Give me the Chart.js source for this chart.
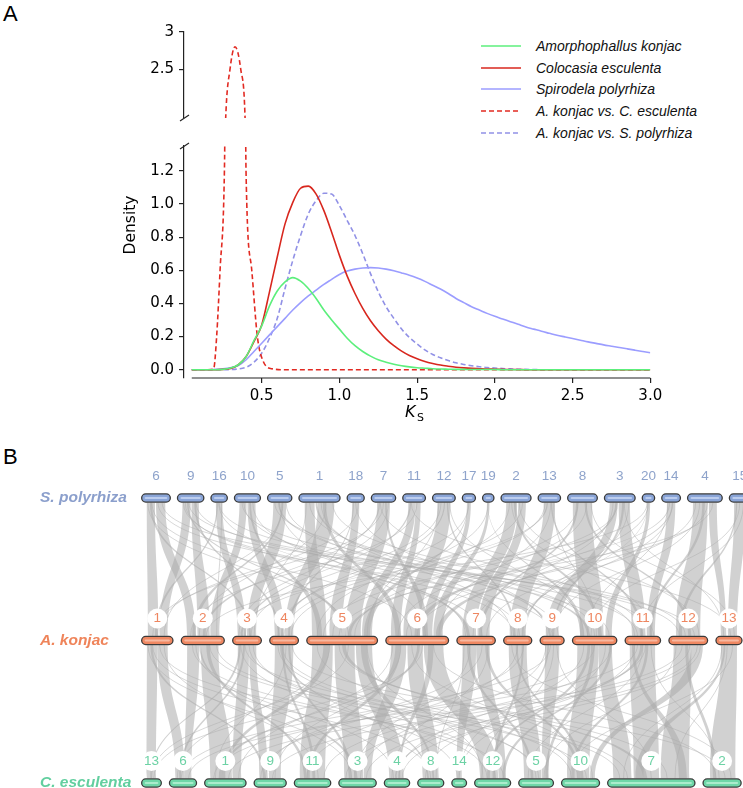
<!DOCTYPE html>
<html>
<head>
<meta charset="utf-8">
<script src="https://cdn.jsdelivr.net/npm/chart.js@4.4.1/dist/chart.umd.min.js"></script>
<style>
  body { margin: 0; background: #fff; width: 743px; height: 788px; position: relative; overflow: hidden;
         font-family: 'Liberation Sans', Arial, sans-serif; }
  canvas { position: absolute; left: 0; }
  #cTop { top: 0; }
  #cLow { top: 132px; }
  #cSyn { top: 440px; }
  .panel { position: absolute; font-size: 22px; color: #000; line-height: 1; }
  #legend { position: absolute; left: 481px; top: 35px; font-style: italic; font-size: 14px; color: #111; }
  #legend .row { height: 21.8px; display: flex; align-items: center; }
  #legend svg { margin-right: 15px; }
</style>
</head>
<body>
<div class="panel" style="left:3px;top:3px">A</div>
<div class="panel" style="left:3px;top:446px">B</div>
<div id="legend"></div>
<canvas id="cTop" width="743" height="132"></canvas>
<canvas id="cLow" width="743" height="300"></canvas>
<canvas id="cSyn" width="743" height="348"></canvas>
<script>
// ── Panel A data: Ks density curves ──────────────────────────────────────

const ks = [0.05,0.10,0.15,0.20,0.25,0.30,0.35,0.40,0.45,0.50,0.55,0.60,0.65,0.70,0.75,0.80,0.85,0.90,0.95,1.00,
            1.05,1.10,1.15,1.20,1.25,1.30,1.35,1.40,1.45,1.50,1.55,1.60,1.65,1.70,1.75,1.80,1.85,1.90,1.95,2.00,
            2.05,2.10,2.15,2.20,2.25,2.30,2.35,2.40,2.45,2.50,2.55,2.60,2.65,2.70,2.75,2.80,2.85,2.90,2.95,3.00];

const konjac = [0,0,0,0,0.002,0.01,0.03,0.08,0.175,0.265, 0.385,0.475,0.53,0.556,0.535,0.49,0.43,0.36,0.30,0.245,
                0.19,0.145,0.11,0.082,0.06,0.045,0.033,0.024,0.017,0.012, 0.009,0.006,0.004,0.003,0.002,0.002,0.001,0.001,0.001,0.001,
                0,0,0,0,0,0,0,0,0,0, 0,0,0,0,0,0,0,0,0,0];

const esculenta = [0,0,0,0,0.002,0.008,0.03,0.08,0.17,0.27, 0.47,0.68,0.88,1.01,1.095,1.108,1.06,0.96,0.83,0.69,
                   0.565,0.46,0.37,0.295,0.235,0.185,0.145,0.112,0.086,0.066, 0.05,0.038,0.028,0.021,0.015,0.011,0.008,0.006,0.004,0.003,
                   0.002,0.001,0.001,0,0,0,0,0,0,0, 0,0,0,0,0,0,0,0,0,0];

const polyrhiza = [0,0,0,0.002,0.005,0.012,0.025,0.06,0.11,0.16, 0.21,0.26,0.31,0.36,0.405,0.445,0.48,0.515,0.545,0.575,
                   0.595,0.607,0.614,0.616,0.614,0.607,0.597,0.584,0.57,0.553, 0.533,0.51,0.487,0.46,0.43,0.405,0.38,0.36,0.34,0.322,
                   0.306,0.29,0.274,0.258,0.245,0.232,0.22,0.208,0.198,0.188, 0.178,0.168,0.159,0.15,0.142,0.134,0.126,0.118,0.11,0.102];

const akVsSp = [0,0,0,0,0,0.001,0.005,0.015,0.045,0.1, 0.19,0.31,0.49,0.66,0.81,0.94,1.02,1.065,1.06,0.99,
                0.9,0.81,0.7,0.58,0.47,0.38,0.31,0.245,0.195,0.155, 0.12,0.092,0.072,0.055,0.042,0.032,0.024,0.018,0.013,0.01,
                0.007,0.005,0.003,0.002,0.001,0,0,0,0,0, 0,0,0,0,0,0,0,0,0,0];

// the konjac vs taro peak is narrow, so it gets its own Ks points
const akVsCeKs = [0.05,0.15,0.19,0.21,0.232,0.26,0.268,0.296,0.328,0.365,0.393,0.399,0.436,0.472,0.51,0.57,0.65,1.0,2.0,3.0];
const akVsCe   = [0,   0,   0.003,0.2,0.6,  1.2, 1.84, 2.5,  2.8,  2.5,  1.84, 1.2,  0.6,  0.2,  0.05,0.005,0, 0,  0,  0];

const xTicks = [0.5, 1.0, 1.5, 2.0, 2.5, 3.0];
const yTicksLow = [0, 0.2, 0.4, 0.6, 0.8, 1.0, 1.2];
const yTicksTop = [2.5, 3];

const seriesNames = ['Amorphophallus konjac', 'Colocasia esculenta', 'Spirodela polyrhiza',
                     'A. konjac vs. C. esculenta', 'A. konjac vs. S. polyrhiza'];

// ── Panel B data: chromosomes (relative lengths) and syntenic links ───────

const spChrs = ['6','9','16','10','5','1','18','7','11','12','17','19','2','13','8','3','20','14','4','15'];
const spLens = [30,27.7,17.7,27.3,25.6,42.4,18.4,25.6,24,24,14.4,12.7,31.3,23.7,31,32,13.7,20,36,22];
const akChrs = ['1','2','3','4','5','6','7','8','9','10','11','12','13'];
const akLens = [32.6,44.3,30,30,72,64,39.7,29.4,25.3,45.6,36.7,40,27.3];
const ceChrs = ['13','6','1','9','11','3','4','8','14','12','5','10','7','2'];
const ceLens = [21,28.4,42.7,33.4,37.7,38.7,26.6,27.3,16,37.3,36,39.3,88.6,39.4];

const rowNames = ['S. polyrhiza', 'A. konjac', 'C. esculenta'];

// [upper chr, from, to, lower chr, from, to]  (fractions of chromosome length)
const spAkBlocks = [
  ['6',0.05,0.45,'1',0.1,0.55], ['6',0.5,0.95,'2',0.05,0.3], ['9',0.05,0.5,'1',0.6,0.95],
  ['9',0.55,0.95,'2',0.35,0.7], ['16',0.1,0.9,'3',0.05,0.45], ['10',0.05,0.45,'2',0.72,0.98],
  ['10',0.5,0.95,'4',0.05,0.5], ['5',0.1,0.9,'3',0.5,0.95], ['1',0.05,0.35,'5',0.02,0.25],
  ['1',0.45,0.95,'4',0.55,0.95], ['18',0.1,0.9,'5',0.3,0.5], ['7',0.1,0.9,'5',0.55,0.8],
  ['11',0.1,0.6,'5',0.82,0.98], ['11',0.6,0.95,'6',0.02,0.2], ['12',0.05,0.95,'6',0.25,0.55],
  ['17',0.1,0.9,'6',0.6,0.78], ['19',0.1,0.9,'6',0.8,0.97], ['2',0.05,0.55,'7',0.05,0.5],
  ['2',0.6,0.95,'7',0.55,0.95], ['13',0.1,0.9,'8',0.1,0.9], ['8',0.05,0.95,'10',0.1,0.75],
  ['3',0.05,0.4,'9',0.1,0.9], ['3',0.45,0.95,'11',0.1,0.6], ['20',0.1,0.9,'10',0.8,0.98],
  ['14',0.1,0.9,'11',0.65,0.95], ['4',0.05,0.6,'12',0.1,0.9], ['4',0.65,0.95,'13',0.05,0.35],
  ['15',0.05,0.95,'13',0.45,0.95],
  ['1',0.38,0.44,'9',0.3,0.45], ['7',0.2,0.28,'2',0.5,0.58], ['12',0.5,0.58,'4',0.35,0.45],
  ['3',0.3,0.38,'6',0.45,0.55], ['5',0.4,0.5,'10',0.3,0.38], ['9',0.3,0.38,'5',0.5,0.56],
  ['13',0.3,0.4,'3',0.2,0.3], ['8',0.6,0.7,'12',0.5,0.6], ['16',0.4,0.5,'7',0.2,0.3],
  ['14',0.3,0.4,'5',0.6,0.65],
  ['6',0.2,0.3,'3',0.6,0.7], ['9',0.7,0.8,'4',0.2,0.3], ['16',0.2,0.35,'1',0.4,0.5],
  ['10',0.6,0.7,'5',0.1,0.18], ['5',0.6,0.7,'2',0.2,0.3], ['1',0.6,0.7,'6',0.1,0.2],
  ['18',0.2,0.3,'4',0.7,0.8], ['7',0.6,0.7,'6',0.6,0.7], ['11',0.2,0.3,'3',0.35,0.45],
  ['12',0.7,0.8,'8',0.3,0.4], ['2',0.4,0.5,'10',0.6,0.7], ['13',0.6,0.7,'11',0.4,0.5],
  ['8',0.2,0.3,'7',0.6,0.7], ['3',0.6,0.7,'9',0.5,0.6], ['14',0.6,0.7,'6',0.85,0.95],
  ['4',0.4,0.5,'11',0.75,0.85], ['15',0.2,0.3,'12',0.2,0.3], ['20',0.3,0.4,'8',0.7,0.8],
  ['19',0.3,0.4,'10',0.1,0.2], ['17',0.3,0.4,'5',0.85,0.95],
];

const akCeBlocks = [
  ['1',0.05,0.5,'13',0.1,0.9], ['1',0.5,0.95,'6',0.1,0.6], ['2',0.05,0.4,'6',0.6,0.95],
  ['2',0.45,0.95,'1',0.05,0.7], ['3',0.05,0.6,'1',0.72,0.98], ['3',0.6,0.95,'9',0.05,0.4],
  ['4',0.05,0.95,'9',0.45,0.95], ['5',0.02,0.35,'11',0.05,0.95], ['5',0.38,0.7,'3',0.05,0.7],
  ['5',0.72,0.98,'4',0.05,0.9], ['6',0.02,0.3,'3',0.72,0.98], ['6',0.32,0.6,'8',0.05,0.95],
  ['6',0.62,0.98,'12',0.05,0.7], ['7',0.05,0.5,'14',0.1,0.9], ['7',0.5,0.95,'12',0.72,0.98],
  ['8',0.05,0.95,'5',0.05,0.7], ['9',0.05,0.95,'5',0.72,0.98], ['10',0.02,0.6,'10',0.05,0.8],
  ['10',0.6,0.98,'7',0.02,0.25], ['11',0.02,0.95,'7',0.28,0.6], ['12',0.02,0.6,'7',0.62,0.98],
  ['12',0.6,0.98,'10',0.82,0.98], ['13',0.05,0.95,'2',0.1,0.95],
  ['2',0.4,0.45,'3',0.4,0.5], ['6',0.5,0.55,'1',0.3,0.4], ['11',0.4,0.5,'4',0.4,0.5],
  ['10',0.3,0.38,'12',0.3,0.4], ['5',0.5,0.56,'7',0.4,0.45], ['4',0.4,0.5,'11',0.5,0.6],
  ['8',0.4,0.5,'10',0.5,0.6],
  ['1',0.2,0.3,'9',0.2,0.3], ['2',0.6,0.7,'11',0.2,0.3], ['3',0.3,0.4,'6',0.3,0.4],
  ['4',0.7,0.8,'3',0.2,0.3], ['5',0.8,0.9,'8',0.6,0.7], ['5',0.2,0.3,'1',0.4,0.5],
  ['6',0.7,0.8,'4',0.6,0.7], ['6',0.1,0.2,'11',0.3,0.4], ['7',0.2,0.3,'5',0.3,0.4],
  ['8',0.7,0.8,'12',0.5,0.6], ['9',0.2,0.3,'14',0.4,0.5], ['10',0.4,0.5,'5',0.85,0.95],
  ['11',0.6,0.7,'10',0.2,0.3], ['12',0.4,0.5,'2',0.2,0.3], ['13',0.2,0.3,'7',0.3,0.4],
  ['10',0.9,0.98,'12',0.85,0.95], ['11',0.1,0.2,'7',0.85,0.95], ['3',0.1,0.2,'13',0.4,0.5],
  ['4',0.3,0.4,'8',0.3,0.4], ['7',0.8,0.9,'10',0.4,0.5],
];

// single-gene links: [upper chr, pos, lower chr, pos]
const spAkLinks = [
  ['6',0.3,'6',0.4], ['9',0.2,'7',0.7], ['16',0.5,'11',0.3], ['10',0.3,'8',0.6], ['5',0.2,'12',0.4],
  ['1',0.2,'10',0.5], ['1',0.7,'2',0.4], ['18',0.5,'9',0.2], ['7',0.5,'1',0.3], ['11',0.3,'13',0.6],
  ['12',0.3,'3',0.7], ['17',0.5,'4',0.2], ['19',0.5,'5',0.1], ['2',0.3,'11',0.8], ['2',0.8,'4',0.5],
  ['13',0.6,'6',0.9], ['8',0.3,'5',0.7], ['3',0.2,'7',0.4], ['3',0.7,'13',0.2], ['20',0.5,'6',0.3],
  ['14',0.6,'8',0.5], ['4',0.3,'9',0.6], ['4',0.8,'5',0.45], ['15',0.5,'10',0.4], ['6',0.8,'12',0.7],
  ['9',0.8,'10',0.9], ['5',0.7,'1',0.8], ['1',0.9,'11',0.2],
  ['6',0.6,'9',0.5], ['9',0.4,'12',0.2], ['16',0.8,'2',0.9], ['10',0.8,'7',0.15], ['5',0.5,'6',0.65],
  ['1',0.1,'3',0.85], ['1',0.55,'8',0.2], ['18',0.8,'1',0.5], ['7',0.3,'11',0.5], ['7',0.8,'3',0.1],
  ['11',0.7,'2',0.15], ['12',0.9,'10',0.2], ['12',0.15,'5',0.9], ['2',0.2,'5',0.35], ['2',0.65,'12',0.85],
  ['13',0.2,'4',0.85], ['13',0.8,'10',0.55], ['8',0.7,'6',0.15], ['8',0.9,'13',0.8], ['3',0.4,'5',0.2],
  ['3',0.9,'8',0.85], ['20',0.2,'2',0.6], ['14',0.2,'10',0.3], ['4',0.15,'7',0.85], ['4',0.6,'6',0.5],
  ['15',0.8,'11',0.45], ['6',0.1,'5',0.6], ['9',0.1,'8',0.3], ['10',0.2,'11',0.9], ['5',0.9,'9',0.9],
];
const akCeLinks = [
  ['1',0.3,'8',0.5], ['2',0.2,'12',0.3], ['3',0.4,'7',0.2], ['4',0.6,'1',0.2], ['5',0.1,'10',0.4],
  ['5',0.6,'13',0.5], ['6',0.2,'9',0.7], ['6',0.8,'2',0.3], ['7',0.3,'3',0.4], ['8',0.5,'11',0.3],
  ['9',0.4,'6',0.4], ['10',0.2,'4',0.6], ['10',0.8,'14',0.5], ['11',0.5,'5',0.2], ['12',0.3,'1',0.6],
  ['12',0.8,'3',0.8], ['13',0.4,'7',0.8], ['1',0.8,'11',0.7], ['3',0.8,'12',0.6], ['4',0.2,'5',0.5],
  ['7',0.7,'9',0.3], ['9',0.8,'7',0.5], ['11',0.2,'8',0.2], ['2',0.7,'10',0.7], ['8',0.2,'2',0.8],
  ['1',0.1,'3',0.3], ['1',0.6,'12',0.9], ['2',0.3,'4',0.3], ['2',0.9,'7',0.1], ['3',0.2,'14',0.2],
  ['3',0.6,'5',0.6], ['4',0.4,'10',0.2], ['4',0.9,'2',0.6], ['5',0.3,'6',0.2], ['5',0.45,'7',0.7],
  ['5',0.9,'12',0.15], ['6',0.05,'1',0.9], ['6',0.4,'10',0.9], ['6',0.6,'13',0.7], ['7',0.1,'8',0.8],
  ['7',0.9,'4',0.2], ['8',0.8,'9',0.1], ['9',0.1,'3',0.6], ['9',0.6,'12',0.1], ['10',0.5,'1',0.15],
  ['10',0.95,'11',0.9], ['11',0.3,'6',0.8], ['11',0.8,'2',0.4], ['12',0.1,'5',0.8], ['12',0.55,'9',0.6],
  ['13',0.1,'7',0.15], ['13',0.7,'10',0.15], ['11',0.6,'3',0.1], ['12',0.9,'4',0.8],
];

// ── Panel A charts (broken y axis = two stacked charts) ───────────────────

const COLORS = ['#5cef7c', '#d8271e', '#9b9dff', '#e22a22', '#9191e6'];
const DASHED = [false, false, false, true, true];
const TICK_FONT = { family: "'DejaVu Sans'", size: 15 };

function curveSets() {
  const curves = [konjac, esculenta, polyrhiza, akVsCe, akVsSp];
  return curves.map((vals, i) => {
    const xs = vals === akVsCe ? akVsCeKs : ks;
    return {
      label: seriesNames[i],
      data: xs.map((k, j) => ({ x: k, y: vals[j] })),
      borderColor: COLORS[i],
      borderWidth: 1.6,
      borderDash: DASHED[i] ? [5, 3] : [],
      pointRadius: 0,
      cubicInterpolationMode: 'monotone',
      fill: false,
    };
  });
}

function yAxis(min, max, ticks, fmt) {
  return {
    min, max,
    afterFit: s => { s.width = 184; },
    afterBuildTicks: s => { s.ticks = ticks.map(v => ({ value: v })); },
    ticks: { callback: fmt, font: TICK_FONT, color: '#000', padding: 5 },
    grid: { drawOnChartArea: false, tickLength: 5, color: '#222', lineWidth: 1.2 },
    border: { color: '#222', width: 1.2 },
  };
}

const breakMark = (ctx, x, y) => {
  ctx.save();
  ctx.strokeStyle = '#222';
  ctx.lineWidth = 1.2;
  ctx.beginPath();
  ctx.moveTo(x - 4, y + 3);
  ctx.lineTo(x + 5, y - 3);
  ctx.stroke();
  ctx.restore();
};

new Chart(document.getElementById('cTop'), {
  type: 'line',
  data: { datasets: curveSets() },
  options: {
    responsive: false,
    animation: false,
    layout: { padding: { top: 31.7, bottom: 4, right: 92.7 } },
    plugins: { legend: { display: false }, tooltip: { enabled: false } },
    scales: {
      x: { type: 'linear', min: 0, max: 3, display: false },
      y: yAxis(1.85, 3, yTicksTop, v => String(v)),
    },
  },
  plugins: [{
    id: 'topBreak',
    afterDraw(chart) {
      breakMark(chart.ctx, chart.chartArea.left, chart.chartArea.bottom);
    },
  }],
});

new Chart(document.getElementById('cLow'), {
  type: 'line',
  data: { datasets: curveSets() },
  options: {
    responsive: false,
    animation: false,
    layout: { padding: { top: 4, right: 92.7 } },
    plugins: { legend: { display: false }, tooltip: { enabled: false } },
    scales: {
      x: {
        type: 'linear', min: 0, max: 3,
        afterFit: s => { s.height = 54; },
        afterBuildTicks: s => { s.ticks = xTicks.map(v => ({ value: v })); },
        ticks: { callback: v => v.toFixed(1), font: TICK_FONT, color: '#000', padding: 4, maxRotation: 0 },
        grid: { drawOnChartArea: false, tickLength: 5, color: '#222', lineWidth: 1.2 },
        border: { display: false },
      },
      y: yAxis(-0.05, 1.35, yTicksLow, v => v.toFixed(1)),
    },
  },
  plugins: [{
    id: 'lowAxes',
    afterDraw(chart) {
      const { ctx, chartArea: a, scales: { x } } = chart;
      // trimmed x spine, only over the data range
      ctx.save();
      ctx.strokeStyle = '#222';
      ctx.lineWidth = 1.2;
      ctx.beginPath();
      ctx.moveTo(x.getPixelForValue(ks[0]), a.bottom);
      ctx.lineTo(x.getPixelForValue(ks[ks.length - 1]), a.bottom);
      ctx.stroke();
      ctx.restore();
      breakMark(ctx, a.left, a.top);

      ctx.save();
      ctx.fillStyle = '#000';
      ctx.font = "15.5px 'DejaVu Sans'";
      ctx.textAlign = 'center';
      ctx.textBaseline = 'middle';
      ctx.translate(131, 93);
      ctx.rotate(-Math.PI / 2);
      ctx.fillText('Density', 0, 0);
      ctx.restore();

      ctx.save();
      ctx.fillStyle = '#000';
      ctx.font = "italic 16px 'DejaVu Sans'";
      ctx.textBaseline = 'alphabetic';
      ctx.fillText('K', 405, 285);
      ctx.font = "11px 'DejaVu Sans'";
      ctx.fillText('S', 417, 289);
      ctx.restore();
    },
  }],
});

// legend as plain HTML
(function buildLegend() {
  const box = document.getElementById('legend');
  seriesNames.forEach((name, i) => {
    const row = document.createElement('div');
    row.className = 'row';
    row.innerHTML =
      `<svg width="40" height="4"><line x1="0" y1="2" x2="40" y2="2" stroke="${COLORS[i]}" stroke-width="1.6"` +
      (DASHED[i] ? ' stroke-dasharray="5,3"' : '') + '/></svg><span></span>';
    row.querySelector('span').textContent = name;
    box.appendChild(row);
  });
})();

// ── Panel B: synteny plot ────────────────────────────────────────────────

const ROW_GAPS = [5.8, 7.06, 6.8];
const BAR_W = 9.5;
const ROW_STYLE = [
  { fill: '#8aa5d8', shine: '#bccdee', text: '#8b9fcc', num: '#8ea3cb' },
  { fill: '#ef8862', shine: '#f7b8a0', text: '#ef845a', num: '#ee8660' },
  { fill: '#6fd7a8', shine: '#aaeccc', text: '#62cf9f', num: '#6dd2a5' },
];
const rowChrs = [[spChrs, spLens], [akChrs, akLens], [ceChrs, ceLens]];

const rowLayout = rowChrs.map(([names, lens], r) => {
  const pos = {};
  let at = 0;
  names.forEach((n, i) => {
    pos[n] = { start: at, end: at + lens[i] };
    at += lens[i] + ROW_GAPS[r];
  });
  return pos;
});

function barSet(r, width, color) {
  const data = [];
  Object.values(rowLayout[r]).forEach(c => {
    data.push({ x: c.start + BAR_W / 2, y: r }, { x: c.end - BAR_W / 2, y: r }, { x: c.end, y: null });
  });
  return {
    data, borderColor: color, borderWidth: width, borderCapStyle: 'round',
    pointRadius: 0, spanGaps: false, clip: false, tension: 0,
  };
}

const synSets = [];
[0, 1, 2].forEach(r => {
  synSets.push(barSet(r, 2.2, ROW_STYLE[r].shine));
  synSets.push(barSet(r, BAR_W - 2.6, ROW_STYLE[r].fill));
  synSets.push(barSet(r, BAR_W, '#3a3a3a'));
});

function posOf(r, chr, f) {
  const c = rowLayout[r][chr];
  return c.start + BAR_W / 2 + f * (c.end - c.start - BAR_W);
}

new Chart(document.getElementById('cSyn'), {
  type: 'line',
  data: { datasets: synSets },
  options: {
    responsive: false,
    animation: false,
    layout: { padding: { left: 141, right: 0, top: 58, bottom: 5 } },
    plugins: { legend: { display: false }, tooltip: { enabled: false } },
    scales: {
      x: { type: 'linear', min: 0, max: 602, display: false },
      y: { type: 'linear', min: 0, max: 2, reverse: true, display: false },
    },
  },
  plugins: [{
    id: 'synteny',
    beforeDatasetsDraw(chart) {
      const { ctx, scales: { x, y } } = chart;
      const pairs = [[0, spAkBlocks, spAkLinks], [1, akCeBlocks, akCeLinks]];
      ctx.save();
      pairs.forEach(([r, blocks, links]) => {
        const y1 = y.getPixelForValue(r) + BAR_W / 2;
        const y2 = y.getPixelForValue(r + 1) - BAR_W / 2;
        const ym = (y1 + y2) / 2;
        ctx.strokeStyle = 'rgba(165,165,165,0.55)';
        ctx.lineWidth = 0.8;
        links.forEach(([ca, fa, cb, fb]) => {
          const a = x.getPixelForValue(posOf(r, ca, fa));
          const b = x.getPixelForValue(posOf(r + 1, cb, fb));
          ctx.beginPath();
          ctx.moveTo(a, y1);
          ctx.bezierCurveTo(a, ym, b, ym, b, y2);
          ctx.stroke();
        });
        ctx.fillStyle = 'rgba(172,172,172,0.55)';
        blocks.forEach(([ca, fa0, fa1, cb, fb0, fb1]) => {
          const a0 = x.getPixelForValue(posOf(r, ca, fa0));
          const a1 = x.getPixelForValue(posOf(r, ca, fa1));
          const b0 = x.getPixelForValue(posOf(r + 1, cb, fb0));
          const b1 = x.getPixelForValue(posOf(r + 1, cb, fb1));
          ctx.beginPath();
          ctx.moveTo(a0, y1);
          ctx.bezierCurveTo(a0, ym, b0, ym, b0, y2);
          ctx.lineTo(b1, y2);
          ctx.bezierCurveTo(b1, ym, a1, ym, a1, y1);
          ctx.closePath();
          ctx.fill();
        });
      });
      ctx.restore();
    },
    afterDraw(chart) {
      const { ctx, scales: { x, y } } = chart;
      ctx.save();
      rowChrs.forEach(([names], r) => {
        const yr = y.getPixelForValue(r);
        const st = ROW_STYLE[r];
        // row name
        ctx.font = "bold italic 15.5px 'Liberation Sans'";
        ctx.fillStyle = st.text;
        ctx.textAlign = 'left';
        ctx.textBaseline = 'middle';
        ctx.fillText(rowNames[r], 40, yr);
        // chromosome numbers
        ctx.font = "13.5px 'Liberation Sans'";
        ctx.textAlign = 'center';
        names.forEach(n => {
          const c = rowLayout[r][n];
          const cx = x.getPixelForValue((c.start + c.end) / 2);
          const cy = yr - 22;
          if (r > 0) {
            ctx.fillStyle = '#fff';
            ctx.beginPath();
            ctx.arc(cx, cy, 10, 0, Math.PI * 2);
            ctx.fill();
          }
          ctx.fillStyle = st.num;
          ctx.fillText(n, cx, cy);
        });
      });
      ctx.restore();
    },
  }],
});
</script>
</body>
</html>
